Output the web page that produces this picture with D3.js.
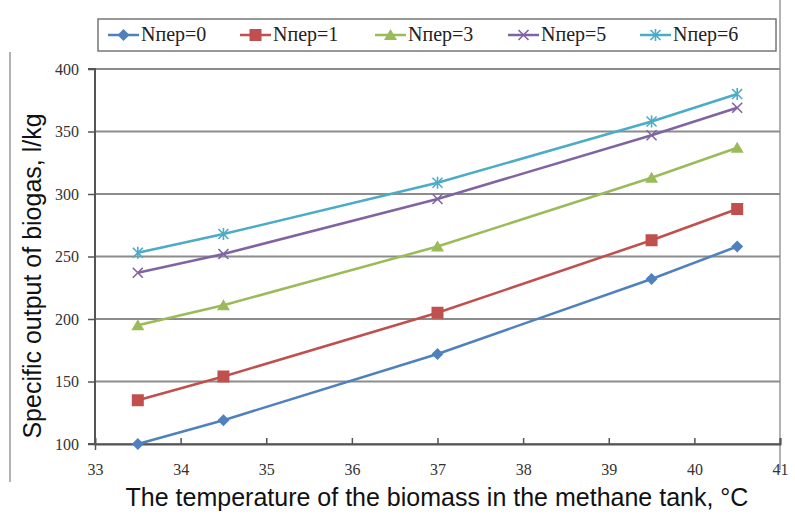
<!DOCTYPE html>
<html>
<head>
<meta charset="utf-8">
<script src="https://cdn.jsdelivr.net/npm/d3@7"></script>
<style>
  body { margin: 0; background: #fff; }
</style>
</head>
<body>
<svg width="795" height="523"></svg>
<script>
var temps = [33.5, 34.5, 37, 39.5, 40.5];
var seriesNames = ["Nпер=0", "Nпер=1", "Nпер=3", "Nпер=5", "Nпер=6"];
var n0 = [100, 119, 172, 232, 258];
var n1 = [135, 154, 205, 263, 288];
var n3 = [195, 211, 258, 313, 337];
var n5 = [237, 252, 296, 347, 369];
var n6 = [253, 268, 309, 358, 380];
var xTicks = [33, 34, 35, 36, 37, 38, 39, 40, 41];
var yTicks = [100, 150, 200, 250, 300, 350, 400];
var colors = ["#4F81BD", "#C0504D", "#9BBB59", "#8064A2", "#4BACC6"];
var shapes = ["diamond", "square", "triangle", "cross", "star"];

var serif = "'Liberation Serif', 'DejaVu Serif', serif";
var sans = "'Liberation Sans', Arial, sans-serif";

var series = [n0, n1, n3, n5, n6].map(function (vals, i) {
    return { name: seriesNames[i], color: colors[i], shape: shapes[i],
        points: vals.map(function (v, j) { return { x: temps[j], y: v }; }) };
});

var svg = d3.select("svg")
    , margin = { left: 95, right: 15, top: 69, bottom: 79 }
    , width = +svg.attr("width")
    , height = +svg.attr("height");

var x = d3.scaleLinear().domain([33, 41]).range([margin.left, width - margin.right]);
var y = d3.scaleLinear().domain([100, 400]).range([height - margin.bottom, margin.top]);

// outer frame pieces
svg.append("line").attr("x1", 10).attr("x2", 10).attr("y1", 52).attr("y2", 482)
    .attr("stroke", "#999").attr("stroke-width", 1.5);
svg.append("line").attr("x1", 780).attr("x2", 780).attr("y1", 0).attr("y2", 470)
    .attr("stroke", "#999").attr("stroke-width", 1.5);

// gridlines
svg.append("g").selectAll("line").data(yTicks).enter().append("line")
    .attr("x1", x(33)).attr("x2", x(41))
    .attr("y1", function (d) { return y(d); }).attr("y2", function (d) { return y(d); })
    .attr("stroke", "#8c8c8c").attr("stroke-width", 2);

var xAxis = svg.append("g").attr("transform", "translate(0," + y(100) + ")")
    .call(d3.axisBottom(x).tickValues(xTicks).tickSize(-6).tickPadding(20).tickFormat(d3.format("d")));
var yAxis = svg.append("g").attr("transform", "translate(" + x(33) + ",0)")
    .call(d3.axisLeft(y).tickValues(yTicks).tickSize(7).tickPadding(9));

[xAxis, yAxis].forEach(function (ax) {
    ax.attr("font-family", serif).attr("font-size", 16);
    ax.select(".domain").attr("stroke", "#555").attr("stroke-width", 2);
    ax.selectAll(".tick line").attr("stroke", "#555").attr("stroke-width", 1.5);
    ax.selectAll("text").style("font-family", serif).attr("fill", "#333");
});
xAxis.selectAll(".tick").filter(function (d) { return d === 33; }).select("line").attr("y2", 6);
yAxis.select(".domain").attr("d", "M-7," + y(400) + "H0V" + y(100) + "H-7");

var line = d3.line().x(function (d) { return x(d.x); }).y(function (d) { return y(d.y); });

function marker(sel, shape, color) {
    if (shape === "diamond") {
        sel.append("path").attr("d", "M0,-6L6,0L0,6L-6,0Z").attr("fill", color);
    } else if (shape === "square") {
        sel.append("rect").attr("x", -6).attr("y", -6).attr("width", 12).attr("height", 12).attr("fill", color);
    } else if (shape === "triangle") {
        sel.append("path").attr("d", "M0,-6L6.5,5L-6.5,5Z").attr("fill", color);
    } else if (shape === "cross") {
        sel.append("path").attr("d", "M-5,-5L5,5M-5,5L5,-5").attr("stroke", color).attr("stroke-width", 1.6);
    } else {
        sel.append("path").attr("d", "M-5,-5L5,5M-5,5L5,-5M0,-6V6").attr("stroke", color).attr("stroke-width", 1.6);
    }
}

var g = svg.append("g");
series.forEach(function (s) {
    g.append("path").datum(s.points).attr("d", line)
        .attr("fill", "none").attr("stroke", s.color).attr("stroke-width", 2.5);
    s.points.forEach(function (p) {
        var m = g.append("g").attr("transform", "translate(" + x(p.x) + "," + y(p.y) + ")");
        marker(m, s.shape, s.color);
    });
});

// legend
var legend = svg.append("g");
legend.append("rect").attr("x", 98).attr("y", 19).attr("width", 678).attr("height", 32)
    .attr("fill", "#fff").attr("stroke", "#777").attr("stroke-width", 1.5);
var legendX = [108, 240, 375, 508, 640];
series.forEach(function (s, i) {
    var it = legend.append("g").attr("transform", "translate(" + legendX[i] + ",35)");
    it.append("line").attr("x1", 0).attr("x2", 31).attr("stroke", s.color).attr("stroke-width", 2.5);
    marker(it.append("g").attr("transform", "translate(15.5,0)"), s.shape, s.color);
    it.append("text").attr("x", 33).attr("y", 6).text(s.name)
        .style("font-family", serif).style("font-size", "20px").attr("fill", "#222");
});

// axis titles
svg.append("text").attr("transform", "translate(41,276) rotate(-90)")
    .attr("text-anchor", "middle").style("font-family", sans).style("font-size", "25px")
    .attr("fill", "#111").text("Specific output of biogas, l/kg");
svg.append("text").attr("x", 437).attr("y", 506).attr("text-anchor", "middle")
    .style("font-family", sans).style("font-size", "25px").attr("fill", "#111")
    .text("The temperature of the biomass in the methane tank, °C");
</script>
</body>
</html>
